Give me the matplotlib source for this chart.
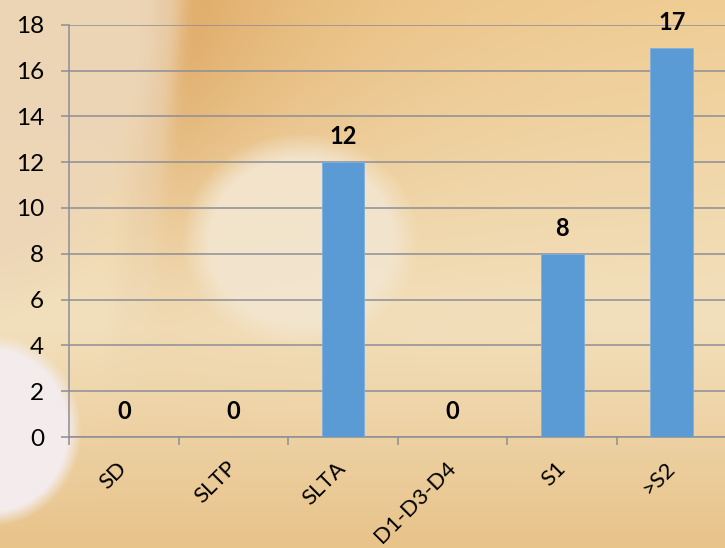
import matplotlib
matplotlib.use("Agg")
import matplotlib.pyplot as plt
import numpy as np

categories = ["SD", "SLTP", "SLTA", "D1-D3-D4", "S1", ">S2"]
counts = [0, 0, 12, 0, 8, 17]
yticks = [0, 2, 4, 6, 8, 10, 12, 14, 16, 18]

W, H = 725, 548
plt.rcParams['font.family'] = ['Lato', 'DejaVu Sans']

# --- soft slide-style backdrop ---
yy, xx = np.mgrid[0:H, 0:W].astype(float)


def soft_ellipse(cx, cy, rx, ry, edge):
    d = np.sqrt(((xx - cx) / rx) ** 2 + ((yy - cy) / ry) ** 2)
    r = (d - 1.0) * min(rx, ry) / edge
    return np.clip(0.5 - r, 0, 1)


def blend(img, color, w):
    c = np.array(color, float) / 255
    return img * (1 - w[..., None]) + c * w[..., None]


t = yy / H
top = np.array([240, 206, 150]) / 255
mid = np.array([242, 223, 187]) / 255
bot = np.array([232, 195, 138]) / 255
k = np.clip(t / 0.55, 0, 1)[..., None]
k2 = np.clip((t - 0.6) / 0.4, 0, 1)[..., None]
bg = top * (1 - k) + mid * k
bg = bg * (1 - k2) + bot * k2

# orange streak with a sharp left edge, fading right and down
edge_x = 180 - 0.1 * yy
edge = 1 / (1 + np.exp(-(xx - edge_x) / 6))
w = edge * np.exp(-np.clip(xx - edge_x, 0, None) / 170) * np.exp(-(yy / 220) ** 2)
bg = blend(bg, (222, 168, 100), w * 0.95)
# brownish rim just left of the streak
rim = np.exp(-((xx - edge_x + 18) / 20) ** 2) * np.exp(-(yy / 240) ** 2)
bg = blend(bg, (216, 174, 140), rim * 0.45)
# pale upper-left area
pale = soft_ellipse(-60, 0, 235, 300, 60) * (1 - edge)
bg = blend(bg, (236, 214, 184), pale * 0.9)
# glow behind the middle
bg = blend(bg, (243, 230, 208), soft_ellipse(300, 240, 105, 95, 25) * 0.9)
# white patch lower-left
bg = blend(bg, (244, 236, 236), soft_ellipse(-8, 430, 82, 88, 14))

fig = plt.figure(figsize=(W / 100, H / 100), dpi=100)
bgax = fig.add_axes([0, 0, 1, 1])
bgax.imshow(bg, aspect='auto', interpolation='bilinear')
bgax.axis('off')

ax = fig.add_axes([69 / W, 111 / H, 657.6 / W, 412.3 / H])
ax.patch.set_alpha(0)
grid_col = '#8d8e96'

x = np.arange(len(categories))
ax.bar(x, counts, width=0.39, color='#5b9bd5', edgecolor='#7fb0de',
       linewidth=0.6, zorder=3)

ax.set_ylim(0, 18)
ax.set_xlim(-0.5, len(categories) - 0.5)
ax.set_yticks(yticks)
ax.yaxis.grid(True, color=grid_col, linewidth=1.1)
ax.set_axisbelow(True)

for s in ['top', 'right']:
    ax.spines[s].set_visible(False)
ax.spines['left'].set_color(grid_col)
ax.spines['left'].set_linewidth(1.1)
ax.spines['bottom'].set_color(grid_col)
ax.spines['bottom'].set_linewidth(1.1)

ax.tick_params(axis='y', length=6, width=1.1, color=grid_col, pad=12,
               labelsize=17.5, labelcolor='black')
ax.set_xticks(np.arange(len(categories) + 1) - 0.5, minor=False)
ax.set_xticklabels([])
ax.tick_params(axis='x', which='major', length=6, width=1.1, color=grid_col)
ax.set_xticks(x, minor=True)
ax.set_xticklabels(categories, minor=True, rotation=45, ha='right',
                   va='center', rotation_mode='anchor', fontsize=16)
ax.tick_params(axis='x', which='minor', length=0, pad=20)

for xi, v in zip(x, counts):
    ax.annotate(str(v), (xi, v), xytext=(0, 13), textcoords='offset points',
                ha='center', va='baseline', fontsize=17, fontweight='bold')

fig.savefig('out.png', dpi=100)
